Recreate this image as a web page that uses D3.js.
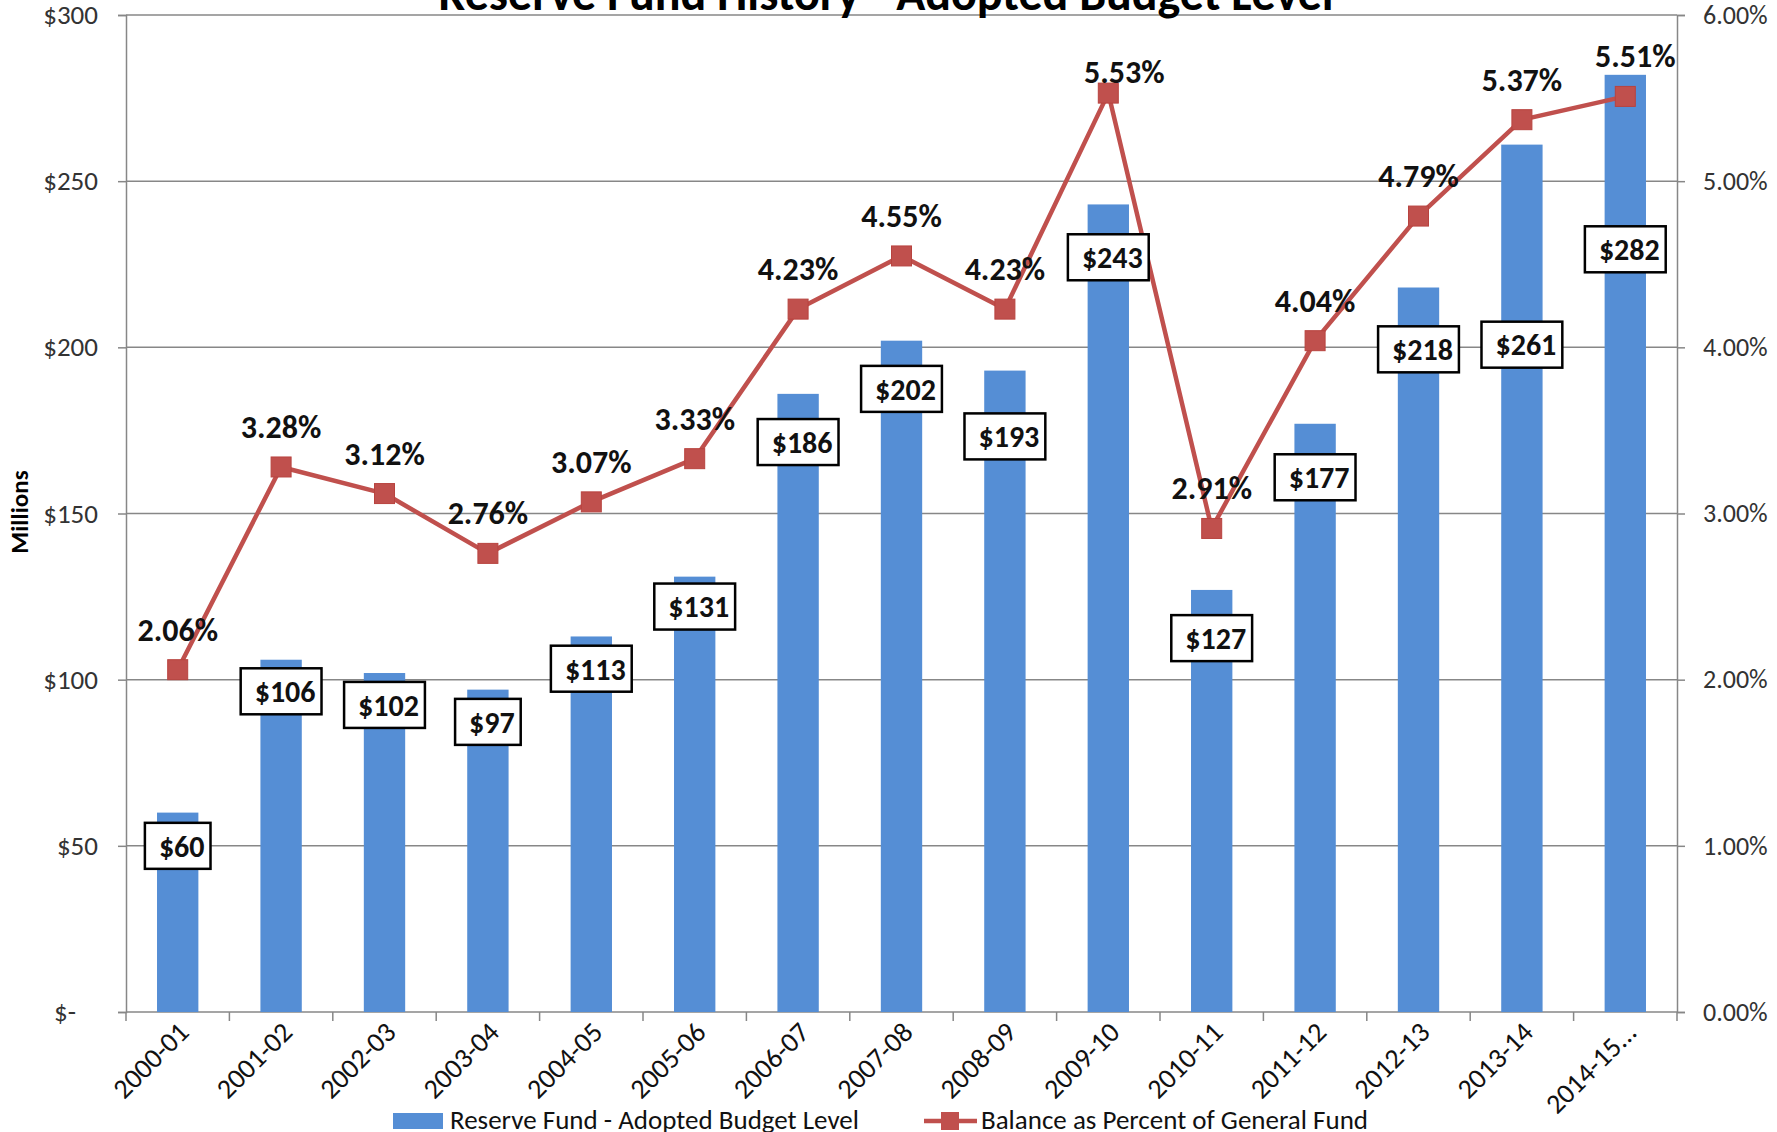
<!DOCTYPE html>
<html>
<head>
<meta charset="utf-8">
<script src="https://cdn.jsdelivr.net/npm/d3@7"></script>
<style>
  body { margin: 0; background: #fff; }
  svg { display: block; font-family: Carlito, Calibri, Lato, sans-serif; }
</style>
</head>
<body>
<div id="chart"></div>
<script>
// fiscal years on the x axis
const years = ['2000-01','2001-02','2002-03','2003-04','2004-05','2005-06','2006-07',
  '2007-08','2008-09','2009-10','2010-11','2011-12','2012-13','2013-14','2014-15...'];
// reserve fund, $ millions
const reserve = [60,106,102,97,113,131,186,202,193,243,127,177,218,261,282];
// balance as percent of general fund
const pctOfFund = [2.06,3.28,3.12,2.76,3.07,3.33,4.23,4.55,4.23,5.53,2.91,4.04,4.79,5.37,5.51];
// where the $ boxes sit (in $ millions)
const boxLabelAt = [50,96.5,92.4,87.3,103.3,122,171.5,187.5,173.2,227.1,112.5,160.9,199.4,200.8,229.5];
const leftTicks = [0,50,100,150,200,250,300];
const rightTicks = [0,1,2,3,4,5,6];

const W = 1777, H = 1132;
const m = {l:126, r:100, t:15, b:120};
const blue = '#558ed5', red = '#c0504d', grid = '#878787';

const svg = d3.select('#chart').append('svg')
  .attr('width', W).attr('height', H);

const x = d3.scaleBand().domain(years)
  .range([m.l, W - m.r]).paddingInner(0.6).paddingOuter(0.3);
const y = d3.scaleLinear().domain([0,300]).range([H - m.b, m.t]);
const y2 = d3.scaleLinear().domain([0,6]).range([H - m.b, m.t]);
const step = x.step();
const cx = d => x(d) + x.bandwidth()/2;

// gridlines
svg.append('g').selectAll('line').data(leftTicks.slice(1)).join('line')
  .attr('x1', m.l).attr('x2', W - m.r)
  .attr('y1', d => y(d)).attr('y2', d => y(d))
  .attr('stroke', grid).attr('stroke-width', 1.5);

// left axis
const yAxis = svg.append('g').attr('transform', `translate(${m.l},0)`)
  .call(d3.axisLeft(y).tickValues(leftTicks).tickSize(8).tickPadding(20)
    .tickFormat(d => d === 0 ? '$-' : '$' + d));
yAxis.select('.domain').attr('stroke', grid).attr('stroke-width', 1.5);
yAxis.selectAll('.tick line').attr('stroke', grid).attr('stroke-width', 1.5);
yAxis.selectAll('.tick text').attr('font-size', 27).attr('fill', '#333')
  .attr('dx', d => d === 0 ? -22 : 0);
yAxis.attr('font-family', null);

// right axis
const yAxis2 = svg.append('g').attr('transform', `translate(${W - m.r},0)`)
  .call(d3.axisRight(y2).tickValues(rightTicks).tickSize(8).tickPadding(18)
    .tickFormat(d => d.toFixed(2) + '%'));
yAxis2.select('.domain').attr('stroke', grid).attr('stroke-width', 1.5);
yAxis2.selectAll('.tick line').attr('stroke', grid).attr('stroke-width', 1.5);
yAxis2.selectAll('.tick text').attr('font-size', 26).attr('fill', '#333');
yAxis2.attr('font-family', null);

// x axis baseline + ticks at band edges
const base = y(0);
svg.append('line').attr('x1', m.l).attr('x2', W - m.r)
  .attr('y1', base).attr('y2', base).attr('stroke', grid).attr('stroke-width', 1.5);
svg.append('g').selectAll('line').data(d3.range(years.length + 1)).join('line')
  .attr('x1', i => m.l + i*step).attr('x2', i => m.l + i*step)
  .attr('y1', base).attr('y2', base + 9)
  .attr('stroke', grid).attr('stroke-width', 1.5);
svg.append('g').selectAll('text').data(years).join('text')
  .attr('transform', d => `translate(${cx(d) + 6},${base + 15}) rotate(-45)`)
  .attr('text-anchor', 'end').attr('dy', '0.35em')
  .attr('font-size', 28).attr('fill', '#111')
  .text(d => d);

// bars
svg.append('g').selectAll('rect').data(reserve).join('rect')
  .attr('x', (d,i) => x(years[i])).attr('width', x.bandwidth())
  .attr('y', d => y(d)).attr('height', d => base - y(d))
  .attr('fill', blue);

// line + markers
const pts = pctOfFund.map((d,i) => [cx(years[i]), y2(d)]);
svg.append('path').attr('d', d3.line()(pts))
  .attr('fill', 'none').attr('stroke', red).attr('stroke-width', 4.5)
  .attr('stroke-linejoin', 'round');
svg.append('g').selectAll('rect').data(pts).join('rect')
  .attr('x', d => d[0] - 10).attr('y', d => d[1] - 10)
  .attr('width', 20).attr('height', 20)
  .attr('fill', red).attr('stroke', '#b8433f').attr('stroke-width', 1);

// percent labels
const pctShift = {9: [16, 19], 14: [10, 0]};
svg.append('g').selectAll('text').data(pctOfFund).join('text')
  .attr('x', (d,i) => pts[i][0] + (pctShift[i] ? pctShift[i][0] : 0))
  .attr('y', (d,i) => pts[i][1] - 29 + (pctShift[i] ? pctShift[i][1] : 0))
  .attr('text-anchor', 'middle').attr('font-size', 32).attr('font-weight', 'bold')
  .attr('fill', '#111')
  .text(d => d.toFixed(2) + '%');

// $ value boxes
const boxes = svg.append('g').selectAll('g').data(reserve).join('g')
  .attr('transform', (d,i) => `translate(${cx(years[i])},${y(boxLabelAt[i])})`);
boxes.append('text')
  .attr('text-anchor', 'middle').attr('dy', '0.36em').attr('dx', 4)
  .attr('font-size', 30).attr('font-weight', 'bold').attr('fill', '#111')
  .text(d => '$' + d);
boxes.each(function(){
  const g = d3.select(this);
  const bb = g.select('text').node().getBBox();
  g.insert('rect', 'text')
    .attr('x', -bb.width/2 - 10).attr('y', -23)
    .attr('width', bb.width + 20).attr('height', 46)
    .attr('fill', '#fff').attr('stroke', '#000').attr('stroke-width', 2.5);
});

// title (sits partly above the canvas, as in the source image)
svg.append('text').attr('x', 886).attr('y', 10)
  .attr('text-anchor', 'middle').attr('font-size', 48).attr('font-weight', 'bold')
  .attr('fill', '#000')
  .text('Reserve Fund History - Adopted Budget Level');

// y axis title
svg.append('text').attr('transform', 'translate(28,512) rotate(-90)')
  .attr('text-anchor', 'middle').attr('font-size', 25).attr('font-weight', 'bold')
  .text('Millions');

// legend
const lg = svg.append('g');
lg.append('rect').attr('x', 393).attr('y', 1113).attr('width', 50).attr('height', 16)
  .attr('fill', blue);
lg.append('text').attr('x', 450).attr('y', 1129).attr('font-size', 27).attr('fill', '#111')
  .text('Reserve Fund - Adopted Budget Level');
lg.append('line').attr('x1', 924).attr('x2', 977).attr('y1', 1121).attr('y2', 1121)
  .attr('stroke', red).attr('stroke-width', 4.5);
lg.append('rect').attr('x', 941).attr('y', 1112).attr('width', 18).attr('height', 18)
  .attr('fill', red);
lg.append('text').attr('x', 981).attr('y', 1129).attr('font-size', 27).attr('fill', '#111')
  .text('Balance as Percent of General Fund');
</script>
</body>
</html>
